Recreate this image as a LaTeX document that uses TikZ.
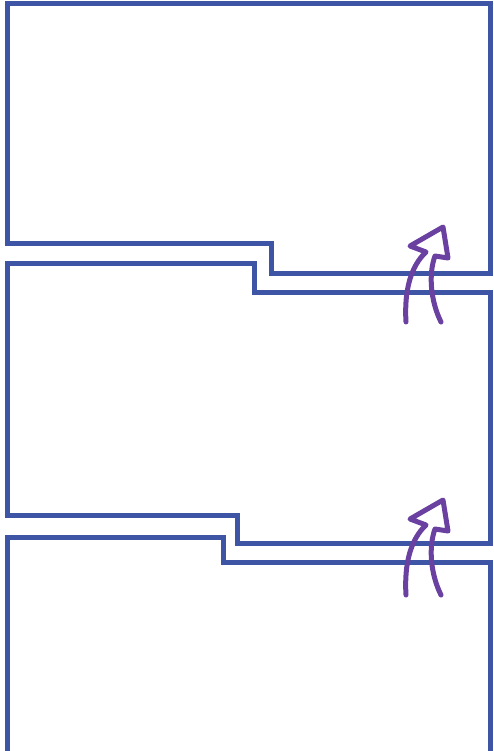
\documentclass[tikz,border=0pt]{standalone}
\definecolor{panelblue}{HTML}{3E55A6}
\definecolor{arrowpurple}{HTML}{6A40A0}
\tikzset{
  panel/.style={draw=panelblue,line width=5pt,line join=miter},
  liftarrow/.style={draw=arrowpurple,line width=5pt,line cap=round,line join=round}
}
\begin{document}
\begin{tikzpicture}[x=1pt,y=-1pt]
    \useasboundingbox (0,0) rectangle (493,751);
    % three stacked panels
    \draw[panel] (7.5,243) -- (7.5,4) -- (490.5,4) -- (490.5,273) -- (271.5,273)
      -- (271.5,243) -- cycle;
    \draw[panel] (7,263) -- (254,263) -- (254,292) -- (490.5,292) -- (490.5,543)
      -- (237.5,543) -- (237.5,515) -- (7,515) -- cycle;
    \draw[panel] (7,760) -- (7,537) -- (223,537) -- (223,562) -- (490.5,562) -- (490.5,760);
    % arrows between panels
    \draw[liftarrow] (406,322) .. controls (404,290) and (411,266) .. (426,252)
      -- (410,246) -- (443,227) -- (448,258) -- (435,256)
      .. controls (428,275) and (431,302) .. (441,322);
    \draw[liftarrow,shift={(0,273)}] (406,322) .. controls (404,290) and (411,266) .. (426,252)
      -- (410,246) -- (443,227) -- (448,258) -- (435,256)
      .. controls (428,275) and (431,302) .. (441,322);
\end{tikzpicture}
\end{document}
